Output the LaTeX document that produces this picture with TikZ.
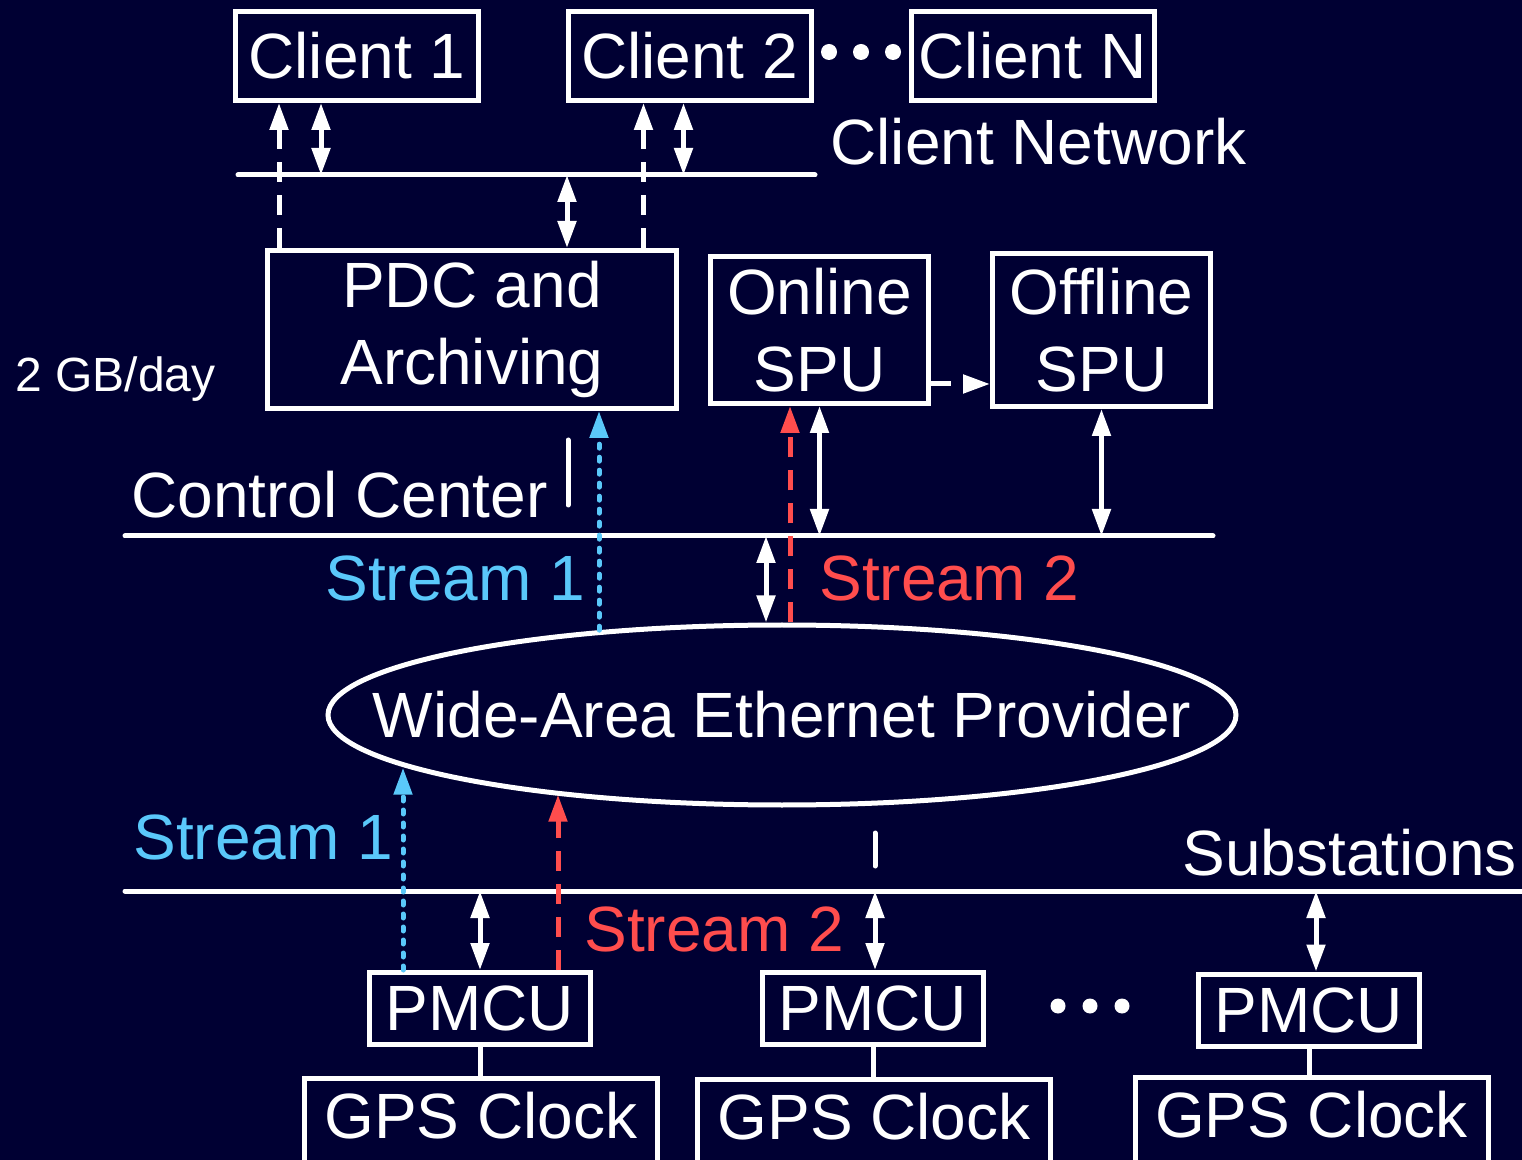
\documentclass[tikz,border=0pt]{standalone}
\usepackage{fontspec}
\setmainfont{Liberation Sans}
\usetikzlibrary{arrows.meta,shapes.geometric}

\definecolor{navybg}{RGB}{0,0,51}
\definecolor{streamblue}{RGB}{90,200,250}
\definecolor{streamred}{RGB}{255,77,77}

\tikzstyle{unit} = [draw=white, line width=2.5pt, text=white, inner sep=0pt, align=center, font=\fontsize{32}{38.5}\selectfont]
\tikzstyle{tag} = [text=white, inner sep=0pt, anchor=base west, font=\fontsize{32}{38.5}\selectfont]
\tikzstyle{bus} = [white, line width=2.5pt, line cap=round]
\tikzstyle{link} = [white, line width=2.5pt, <->]
\tikzstyle{wdash} = [white, line width=2.5pt, ->, dash pattern=on 10pt off 6.5pt]
\tikzstyle{rdash} = [streamred, line width=2.5pt, ->, dash pattern=on 10pt off 6.5pt]
\tikzstyle{bdot} = [streamblue, line width=2.5pt, ->, line cap=round, dash pattern=on 2pt off 4.5pt]

\begin{document}
\begin{tikzpicture}[x=0.5pt, y=-0.5pt, >={Triangle[length=13.5pt,width=9pt]}]
\fill[navybg] (0,0) rectangle (1522,1160);
\useasboundingbox (0,0) rectangle (1522,1160);
%begin clients
\node[unit, minimum width=121.5pt, minimum height=44.5pt] (c1) at (357,56) {Client 1};
\node[unit, minimum width=121.5pt, minimum height=44.5pt] (c2) at (689.5,56) {Client 2};
\node[unit, minimum width=121.5pt, minimum height=44.5pt] (cn) at (1032.5,56) {Client N};
\foreach \dx in {829,861,893}
    \fill[white] (\dx,52) circle (4pt);
\coordinate (cnl) at (238,175);
\coordinate (cnr) at (815,175);
\draw[bus] (cnl) -- (cnr);
\node[tag] (cnet) at (830,165) {Client Network};
%end clients
%begin control center
\node[unit, minimum width=204.5pt, minimum height=79pt] (pdc) at (472,329.5) {PDC and\\Archiving};
\node[unit, minimum width=109pt, minimum height=73.5pt] (spuon) at (819.5,330) {Online\\SPU};
\node[unit, minimum width=109pt, minimum height=76.5pt] (spuoff) at (1101.5,330) {Offline\\SPU};
\node[tag, font=\fontsize{24}{29}\selectfont] (rate) at (15,392) {2 GB/day};
\draw[wdash] ([xshift=23pt]c1.south west |- pdc.north) -- ([xshift=23pt]c1.south west);
\draw[link] ([xshift=44pt]c1.south west) -- ([xshift=44pt]c1.south west |- cnl);
\draw[wdash] ([xshift=39pt]c2.south west |- pdc.north) -- ([xshift=39pt]c2.south west);
\draw[link] ([xshift=59pt]c2.south west) -- ([xshift=59pt]c2.south west |- cnl);
\draw[link] ([xshift=47.5pt]pdc.north) -- ([xshift=47.5pt]pdc.north |- cnl);
\draw[wdash] ([yshift=-27pt]spuon.east) -- ([yshift=-27pt]spuon.east -| spuoff.west);
\coordinate (ccl) at (125,536);
\coordinate (ccr) at (1213,536);
\draw[bus] (ccl) -- (ccr);
\draw[bus] (568,440) -- (568,505);
\node[tag] (ctrl) at (131,518) {Control Center};
%end control center
%begin provider
\node[ellipse, draw=white, line width=2.5pt, minimum width=454pt, minimum height=90pt, inner sep=0pt] (wan) at (782,715) {};
\node[unit, draw=none] (wantext) at (wan.center) {Wide-Area Ethernet Provider};
\draw[bdot] ([xshift=63.5pt]pdc.south |- wan.155) -- ([xshift=63.5pt]pdc.south);
\draw[rdash] ([xshift=-14.75pt]spuon.south |- wan.north) -- ([xshift=-14.75pt]spuon.south);
\draw[link] (spuon.south) -- (spuon.south |- ccl);
\draw[link] ([xshift=-8pt]wan.north) -- ([xshift=-8pt]wan.north |- ccl);
\draw[link] (spuoff.south) -- (spuoff.south |- ccl);
\node[tag, text=streamblue] (s1up) at (325,601) {Stream 1};
\node[tag, text=streamred] (s2up) at (819,601) {Stream 2};
%end provider
%begin substations
\node[unit, minimum width=110.5pt, minimum height=36pt] (pm1) at (480,1008.5) {PMCU};
\node[unit, minimum width=110.5pt, minimum height=36pt] (pm2) at (873,1008.5) {PMCU};
\node[unit, minimum width=110.5pt, minimum height=36pt] (pm3) at (1309,1010) {PMCU};
\node[unit, minimum width=176.5pt, text height=30pt, text depth=22pt, anchor=north] (gps1) at (481,1075.5) {GPS Clock};
\node[unit, minimum width=176.5pt, text height=30pt, text depth=22pt, anchor=north] (gps2) at (874,1077) {GPS Clock};
\node[unit, minimum width=176.5pt, text height=30pt, text depth=22pt, anchor=north] (gps3) at (1311.5,1074.5) {GPS Clock};
\foreach \dx in {1058,1090,1122}
    \fill[white] (\dx,1006) circle (3.75pt);
\coordinate (ssl) at (125,891);
\coordinate (ssr) at (1530,891);
\draw[bus] (ssl) -- (ssr);
\draw[bus] (875,833) -- (875,866);
\draw[bdot] ([xshift=-38.5pt]pm1.north) -- ([xshift=-38.5pt]pm1.north |- wan.188);
\draw[rdash] ([xshift=39pt]pm1.north) -- ([xshift=39pt]pm1.north |- wan.199);
\draw[link] (pm1.north) -- (pm1.north |- ssl);
\draw[link] ([xshift=1pt]pm2.north) -- ([xshift=1pt]pm2.north |- ssl);
\draw[link] ([xshift=3.5pt]pm3.north) -- ([xshift=3.5pt]pm3.north |- ssl);
\draw[bus] (pm1.south) -- (pm1.south |- gps1.north);
\draw[bus] (pm2.south) -- (pm2.south |- gps2.north);
\draw[bus] (pm3.south) -- (pm3.south |- gps3.north);
\node[tag, text=streamblue] (s1lo) at (133,859) {Stream 1};
\node[tag, text=streamred] (s2lo) at (584,951) {Stream 2};
\node[tag] (subs) at (1182,875) {Substations};
%end substations
\end{tikzpicture}
\end{document}
